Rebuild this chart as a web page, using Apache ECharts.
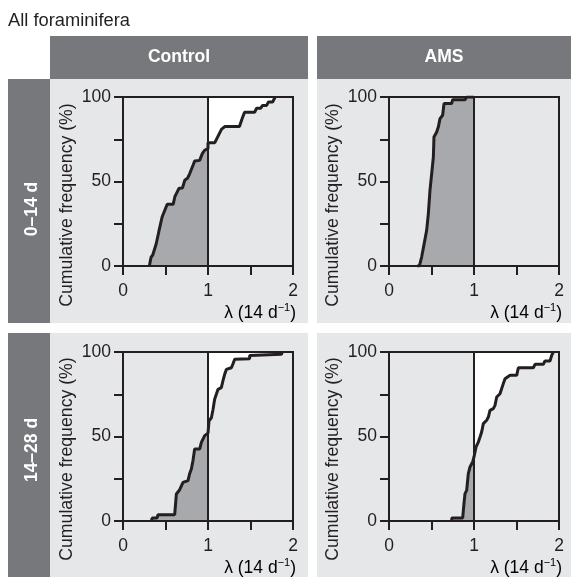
<!DOCTYPE html>
<html>
<head>
<meta charset="utf-8">
<title>All foraminifera</title>
<script src="https://cdn.jsdelivr.net/npm/echarts@6.0.0/dist/echarts.min.js"></script>
<style>
  html, body { margin: 0; padding: 0; background: #fff; }
  #chart { width: 571px; height: 577px; }
</style>
</head>
<body>
<div id="chart"></div>
<script>
const columnTitles = ['Control', 'AMS'];
const rowTitles = ['0–14 d', '14–28 d'];
const yTickLabels = [0, 50, 100];
const xTickLabels = [0, 1, 2];

// [λ (14 d^-1), cumulative frequency %]
const control0to14 = [
  [0.31, 0], [0.33, 5.2], [0.35, 6.5], [0.37, 7.5], [0.39, 13], [0.42, 20], [0.46, 29], [0.50, 34],
  [0.52, 36.5], [0.59, 36.5], [0.61, 41], [0.647, 44.8], [0.66, 46], [0.70, 46.2], [0.726, 50.7],
  [0.76, 52], [0.785, 54.7], [0.824, 59.6], [0.843, 62.1], [0.902, 62.5], [0.933, 66.5],
  [0.96, 68.5], [1.00, 69.5], [1.00, 73], [1.08, 73], [1.12, 77], [1.16, 81], [1.20, 82.5],
  [1.37, 82.5], [1.40, 87], [1.43, 91], [1.55, 91], [1.57, 93.3], [1.62, 93.3], [1.64, 95],
  [1.69, 95], [1.71, 97], [1.76, 97], [1.79, 100]
];
const ams0to14 = [
  [0.33, 0], [0.357, 0], [0.384, 5.3], [0.41, 12.2], [0.443, 21.1], [0.463, 31], [0.482, 44.8],
  [0.502, 54.6], [0.522, 64.5], [0.529, 76.3], [0.561, 79.3], [0.58, 82.2], [0.60, 87.2],
  [0.631, 89.2], [0.647, 96.1], [0.737, 96.1], [0.749, 98.4], [0.894, 98.4], [0.914, 100], [1.0, 100]
];
const control14to28 = [
  [0.333, 0], [0.345, 1.8], [0.40, 1.8], [0.412, 3.7], [0.608, 3.7], [0.628, 16], [0.667, 18.5],
  [0.706, 22.9], [0.765, 23.9], [0.784, 28], [0.804, 30.8], [0.824, 36], [0.843, 42.6],
  [0.902, 42.6], [0.922, 46.5], [0.961, 50.5], [1.0, 52], [1.012, 59.2], [1.04, 61.1],
  [1.059, 66], [1.078, 72], [1.098, 75], [1.118, 77.9], [1.157, 78.9], [1.176, 83], [1.196, 86.8],
  [1.216, 89.7], [1.275, 90.7], [1.294, 93], [1.314, 95.7], [1.49, 96], [1.49, 98],
  [1.863, 98.6], [1.875, 100]
];
const ams14to28 = [
  [0.737, 0], [0.74, 1.8], [0.867, 1.8], [0.882, 10.3], [0.894, 16.2], [0.914, 18.1], [0.933, 28],
  [0.953, 32], [0.984, 34.9], [1.0, 37.9], [1.024, 43.8], [1.051, 46.7], [1.071, 49.7],
  [1.09, 52.7], [1.11, 57.6], [1.149, 59.6], [1.169, 61.5], [1.188, 65.5], [1.227, 66.5],
  [1.247, 68.4], [1.267, 73.4], [1.306, 75.3], [1.325, 78.3], [1.345, 81.3], [1.365, 84.2],
  [1.424, 86.2], [1.502, 86.2], [1.522, 90.7], [1.698, 90.7], [1.718, 92.7], [1.816, 92.7],
  [1.835, 94.7], [1.894, 94.7], [1.914, 98], [1.933, 100]
];

const panels = [
  { row: 0, col: 0, data: control0to14 },
  { row: 0, col: 1, data: ams0to14 },
  { row: 1, col: 0, data: control14to28 },
  { row: 1, col: 1, data: ams14to28 }
];

const font = '"Liberation Sans", Arial, Helvetica, sans-serif';
const ink = '#231f20';
const headerGray = '#77787b';
const panelGray = '#e6e7e8';
const fillGray = '#a7a9ac';

// layout (px)
const colX = [50, 317];
const colW = [258, 254];
const rowY = [79, 333];
const rowH = 244;
const rowLabelY = [209, 450];
const plotLeft = [123, 389];
const plotTop = [97, 352];
const plotW = 170;
const plotH = 169;

const chart = echarts.init(document.getElementById('chart'));

const graphic = [
  {
    type: 'text', x: 8, y: 21,
    style: { text: 'All foraminifera', font: '18.3px ' + font, fill: ink, verticalAlign: 'middle' }
  }
];

columnTitles.forEach((t, c) => {
  graphic.push({ type: 'rect', shape: { x: colX[c], y: 36, width: colW[c], height: 43 }, style: { fill: headerGray } });
  graphic.push({
    type: 'text', x: colX[c] + colW[c] / 2, y: 57.5,
    style: { text: t, font: 'bold 17.5px ' + font, fill: '#fff', align: 'center', verticalAlign: 'middle' }
  });
});

rowTitles.forEach((t, r) => {
  graphic.push({ type: 'rect', shape: { x: 8, y: rowY[r], width: 42, height: rowH }, style: { fill: headerGray } });
  graphic.push({
    type: 'text', x: 32, y: rowLabelY[r], rotation: Math.PI / 2,
    style: { text: t, font: 'bold 17.5px ' + font, fill: '#fff', align: 'center', verticalAlign: 'middle' }
  });
});

panels.forEach((p) => {
  graphic.push({
    type: 'rect', z: -1,
    shape: { x: colX[p.col], y: rowY[p.row], width: colW[p.col], height: rowH },
    style: { fill: panelGray }
  });
  graphic.push({
    type: 'text', x: plotLeft[p.col] - 56, y: rowY[p.row] + 126, rotation: Math.PI / 2,
    style: { text: 'Cumulative frequency (%)', font: '17.7px ' + font, fill: ink, align: 'center', verticalAlign: 'middle' }
  });
  graphic.push({
    type: 'text', x: plotLeft[p.col] + plotW + 3, y: plotTop[p.row] + plotH + 46,
    style: {
      text: '{a|λ (14 d}{b|−1}{a|)}',
      align: 'right', verticalAlign: 'middle',
      rich: {
        a: { fontSize: 17.5, fontFamily: font, color: ink, lineHeight: 20, verticalAlign: 'bottom' },
        b: { fontSize: 11, fontFamily: font, color: ink, lineHeight: 20, verticalAlign: 'top', padding: [0, 0, 6, 0] }
      }
    }
  });
});

const grid = [];
const xAxis = [];
const yAxis = [];
const series = [];

panels.forEach((p, i) => {
  grid.push({
    left: plotLeft[p.col], top: plotTop[p.row], width: plotW, height: plotH,
    show: true, borderColor: ink, borderWidth: 2, backgroundColor: 'transparent', z: 5
  });
  xAxis.push({
    gridIndex: i, type: 'value', min: 0, max: 2, interval: 0.5, z: 5,
    axisLine: { show: true, onZero: false, lineStyle: { color: ink, width: 2 } },
    axisTick: { show: true, inside: false, length: 9, lineStyle: { color: ink, width: 2 } },
    axisLabel: {
      margin: 16, fontSize: 17.5, fontFamily: font, color: ink,
      formatter: (v) => (xTickLabels.includes(v) ? String(v) : '')
    },
    splitLine: { show: false }
  });
  yAxis.push({
    gridIndex: i, type: 'value', min: 0, max: 100, interval: 25, z: 5,
    axisLine: { show: true, onZero: false, lineStyle: { color: ink, width: 2 } },
    axisTick: { show: true, inside: false, length: 9, lineStyle: { color: ink, width: 2 } },
    axisLabel: {
      margin: 12, fontSize: 17.5, fontFamily: font, color: ink,
      formatter: (v) => (yTickLabels.includes(v) ? String(v) : '')
    },
    splitLine: { show: false }
  });

  // grey area under the curve left of λ = 1
  series.push({
    type: 'line', xAxisIndex: i, yAxisIndex: i, silent: true,
    data: p.data.filter((d) => d[0] <= 1),
    showSymbol: false,
    lineStyle: { width: 0, opacity: 0 },
    areaStyle: { color: fillGray, opacity: 1, origin: 'start' }
  });
  // white area above the curve right of λ = 1
  series.push({
    type: 'line', xAxisIndex: i, yAxisIndex: i, silent: true,
    data: p.data.filter((d) => d[0] >= 1),
    showSymbol: false,
    lineStyle: { width: 0, opacity: 0 },
    areaStyle: { color: '#ffffff', opacity: 1, origin: 'end' }
  });
  series.push({
    type: 'line', xAxisIndex: i, yAxisIndex: i, silent: true,
    data: p.data,
    showSymbol: false,
    lineStyle: { color: ink, width: 3 },
    markLine: {
      silent: true, symbol: 'none', label: { show: false },
      lineStyle: { color: ink, width: 2, type: 'solid' },
      data: [{ xAxis: 1 }]
    }
  });
});

chart.setOption({
  animation: false,
  backgroundColor: '#ffffff',
  graphic: graphic,
  grid: grid,
  xAxis: xAxis,
  yAxis: yAxis,
  series: series
});
</script>
</body>
</html>
